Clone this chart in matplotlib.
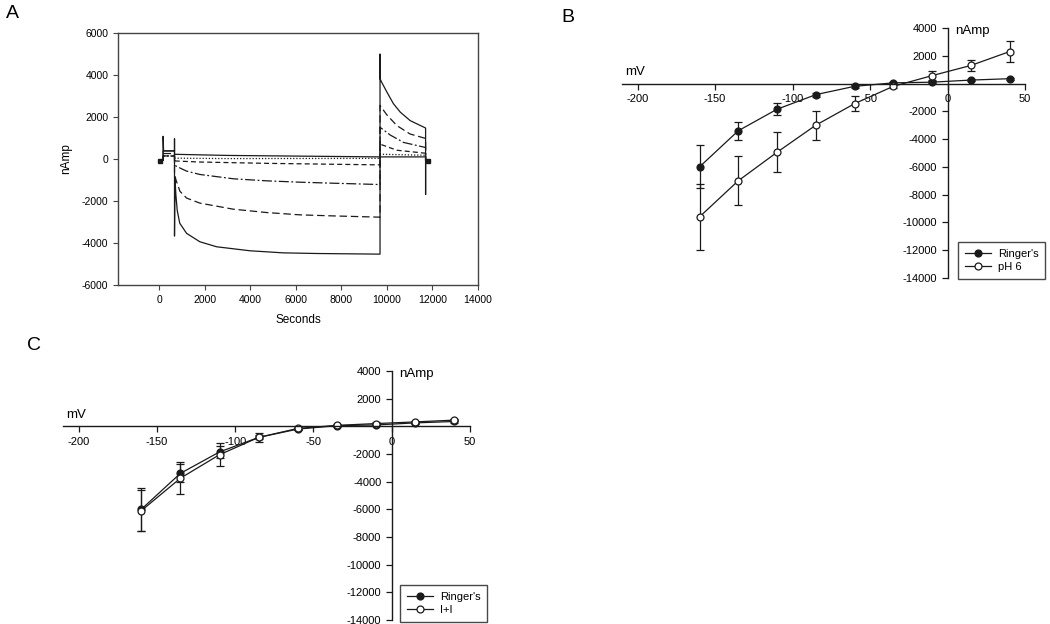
import matplotlib
matplotlib.use("Agg")
import matplotlib.pyplot as plt
from matplotlib.lines import Line2D

plt.rcParams['font.family'] = ['Liberation Sans', 'DejaVu Sans']
plt.rcParams['axes.unicode_minus'] = False

# ---- Panel A: current traces (time, nAmp) ----
sweep_t = [
    [0, 180, 180, 200, 680, 680, 680, 700, 740, 800, 910, 1210, 1790, 2530, 3990, 5460, 6920,
     9700, 9700, 9700, 9750, 10000, 10290, 10590, 11020, 11700, 11700, 11700, 11850],
    [0, 180, 180, 680, 680, 740, 920, 1210, 1790, 3260, 4730, 6190, 7650, 9700,
     9700, 10000, 10440, 11020, 11700, 11700, 11850],
    [0, 180, 180, 680, 680, 740, 1210, 1790, 3260, 4730, 6190, 7650, 9700,
     9700, 10150, 10730, 11700, 11700, 11850],
    [0, 180, 180, 680, 680, 740, 1790, 4730, 9700, 9700, 10440, 11700, 11700, 11850],
    [0, 180, 180, 680, 680, 3000, 9700, 9700, 11700, 11700, 11850],
    [0, 180, 180, 680, 680, 3000, 9700, 9700, 11700, 11700, 11850],
]
sweep_i = [
    [-60, -60, 1080, 385, 385, 960, -3670, -900, -1700, -2450, -3060, -3540, -3940, -4180, -4370,
     -4470, -4500, -4530, 4990, 3830, 3700, 3190, 2630, 2230, 1830, 1475, -1690, -60, -60],
    [-60, -60, 260, 260, -700, -980, -1540, -1860, -2100, -2390, -2550, -2660, -2710, -2770,
     2550, 2100, 1590, 1190, 980, -60, -60],
    [-60, -60, 144, 144, -200, -336, -577, -736, -942, -1040, -1105, -1153, -1216,
     1510, 1140, 790, 548, -60, -60],
    [-60, -60, 144, 144, -50, -96, -144, -207, -280, 707, 418, 274, -60, -60],
    [-60, -60, 144, 144, 40, 20, 30, 226, 178, -60, -60],
    [-60, -60, 385, 385, 224, 170, 100, 100, 100, -60, -60],
]
sweep_style = ['-', (0, (6, 3)), (0, (8, 2, 1.5, 2)), (0, (4, 2.5)), (0, (1, 1.5)), '-']
holding_t = [40, 11800]
holding_i = [-100, -80]

# ---- Panels B and C: I-V curves ----
mv = [-160, -135, -110, -85, -60, -35, -10, 15, 40]
ringer = [-6000, -3400, -1850, -800, -200, 50, 100, 250, 350]
ringer_err = [1550, 650, 450, 150, 100, 80, 80, 80, 80]
ph6 = [-9600, -7000, -4950, -3000, -1450, -200, 570, 1300, 2300]
ph6_err = [2400, 1750, 1450, 1050, 550, 150, 300, 400, 750]
ii = [-6100, -3750, -2050, -800, -150, 70, 200, 320, 450]
ii_err = [1500, 1150, 850, 300, 100, 80, 80, 80, 80]

W, H = 1050, 624
fig = plt.figure(figsize=(W / 100, H / 100), dpi=100)


def box(x0, y0, x1, y1):
    return [x0 / W, 1 - y1 / H, (x1 - x0) / W, (y1 - y0) / H]


ink = '#1a1a1a'

# --- A ---
axA = fig.add_axes(box(118, 33, 478, 285))
for t, i, ls in zip(sweep_t, sweep_i, sweep_style):
    axA.plot(t, i, color=ink, lw=0.9, linestyle=ls)
axA.plot(holding_t, holding_i, 's', color=ink, ms=3)
axA.set_xlim(-1800, 14000)
axA.set_ylim(-6000, 6000)
axA.set_xticks(range(0, 14001, 2000))
axA.set_yticks(range(-6000, 6001, 2000))
axA.tick_params(labelsize=7.5, length=3.5, width=0.8, color='#444')
for s in axA.spines.values():
    s.set_color('#444')
    s.set_linewidth(1.0)
axA.set_xlabel('Seconds', fontsize=8.5, labelpad=7)
axA.set_ylabel('nAmp', fontsize=8.5, labelpad=7)


def iv_axes(rect, series, legend_anchor):
    ax = fig.add_axes(rect)
    handles = []
    for y, e, face, lab in series:
        ax.errorbar(mv, y, yerr=e, color=ink, lw=0.9, elinewidth=0.9, capsize=3, capthick=0.9,
                    marker='o', ms=5, mfc=face, mec=ink, mew=0.9)
        handles.append(Line2D([], [], color=ink, lw=0.9, marker='o', ms=5, mfc=face, mec=ink,
                              mew=0.9, label=lab))
    ax.set_xlim(-210, 50)
    ax.set_ylim(-14000, 4000)
    ax.spines['left'].set_position(('data', 0))
    ax.spines['bottom'].set_position(('data', 0))
    ax.spines['top'].set_visible(False)
    ax.spines['right'].set_visible(False)
    for s in ('left', 'bottom'):
        ax.spines[s].set_color(ink)
        ax.spines[s].set_linewidth(1.0)
    ax.set_xticks([-200, -150, -100, -50, 0, 50])
    ax.set_yticks([4000, 2000, -2000, -4000, -6000, -8000, -10000, -12000, -14000])
    ax.tick_params(labelsize=8, length=4, width=0.9, color=ink, direction='out')
    ax.patch.set_visible(False)
    ax.text(-208, 400, 'mV', fontsize=9.5, ha='left', va='bottom')
    ax.text(5, 3800, 'nAmp', fontsize=9.5, ha='left', va='center')
    leg = ax.legend(handles=handles, loc='lower left', bbox_to_anchor=legend_anchor,
                    bbox_transform=fig.transFigure, fontsize=8, frameon=True, fancybox=False,
                    handlelength=2.4, handletextpad=0.6, borderpad=0.6, labelspacing=0.3,
                    borderaxespad=0)
    leg.get_frame().set_edgecolor(ink)
    leg.get_frame().set_linewidth(1.0)
    return ax


iv_axes(box(622, 28, 1025, 278),
        [(ringer, ringer_err, ink, "Ringer's"), (ph6, ph6_err, 'white', 'pH 6')],
        (958 / W, 1 - 279 / H))
iv_axes(box(63, 371, 470, 620),
        [(ringer, ringer_err, ink, "Ringer's"), (ii, ii_err, 'white', 'I+I')],
        (400 / W, 1 - 622 / H))

fig.text(12 / W, 1 - 13 / H, 'A', fontsize=14, ha='center', va='center')
fig.text(568 / W, 1 - 18 / H, 'B', fontsize=14, ha='center', va='center')
fig.text(34 / W, 1 - 346 / H, 'C', fontsize=14, ha='center', va='center')

fig.savefig('out.png', dpi=100)
